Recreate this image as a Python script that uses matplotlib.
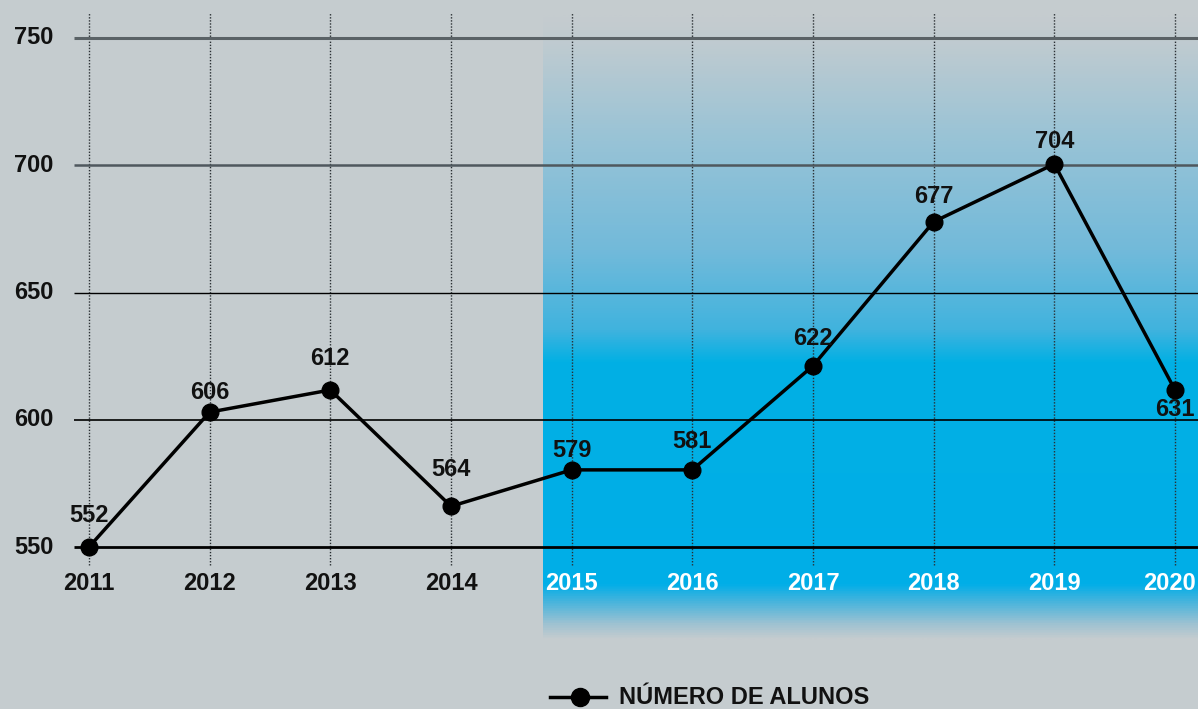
import numpy as np
import matplotlib
matplotlib.use("Agg")
import matplotlib.pyplot as plt
from matplotlib.colors import LinearSegmentedColormap

# ---- data ----
anos = ["2011", "2012", "2013", "2014", "2015", "2016", "2017", "2018", "2019", "2020"]
rotulos = [552, 606, 612, 564, 579, 581, 622, 677, 704, 631]          # printed labels
posicao = [550, 603, 611.7, 566, 580.3, 580.3, 621.2, 677.8, 700.5, 611.7]  # plotted heights
grade_y = [550, 600, 650, 700, 750]
legenda = "NÚMERO DE ALUNOS"

BG = "#c5cccf"
FONT = ["Liberation Sans", "DejaVu Sans"]
plt.rcParams["font.family"] = FONT
FS = 17

W, H = 1198, 709
fig = plt.figure(figsize=(W / 100, H / 100), dpi=100, facecolor=BG)
ax = fig.add_axes([0, 0, 1, 1])
ax.set_facecolor(BG)
for s in ax.spines.values():
    s.set_visible(False)
ax.set_xticks([])
ax.set_yticks([])

# pixel mapping helpers (layout)
x0px, dxpx = 89.0, (1175 - 89) / 9.0
y550px, pxunit = 547.0, (547 - 38) / 200.0
def px2x(p):
    return (p - x0px) / dxpx
def px2y(p):
    return 550 + (y550px - p) / pxunit

ax.set_xlim(px2x(0), px2x(W))
ax.set_ylim(px2y(H), px2y(0))

# ---- gradient panel ----
stops = [(15, "#c5cccf"), (40, "#c0cbd0"), (140, "#98c3d6"), (250, "#72bada"),
         (330, "#40b3de"), (362, "#02b0e4"), (585, "#00aee8"), (600, "#3cb3de"),
         (625, "#9ec2d2"), (640, "#c5cccf")]
top, bot = stops[0][0], stops[-1][0]
cmap = LinearSegmentedColormap.from_list(
    "g", [((p - top) / (bot - top), c) for p, c in stops])
grad = np.linspace(0, 1, 512).reshape(-1, 1)
ax.imshow(grad, cmap=cmap, aspect="auto",
          extent=[3.76, px2x(W), px2y(bot), px2y(top)],
          origin="upper", zorder=0, interpolation="bilinear")

# ---- grid lines ----
gstyle = {550: ("#000000", 2.0), 600: ("#000000", 1.2), 650: ("#000000", 1.0),
          700: ("#4f585e", 1.8), 750: ("#5a6266", 2.2)}
for g in grade_y:
    c, lw = gstyle[g]
    ax.plot([px2x(74), px2x(W)], [g, g], color=c, lw=lw, zorder=2,
            solid_capstyle="butt")
    ax.text(px2x(14), g, str(g), ha="left", va="center",
            fontsize=FS, fontweight="bold", color="#111111", zorder=5)

xs = np.arange(len(anos))
for i in xs:
    ax.plot([i, i], [px2y(565), px2y(12)], color="#2a2f33", lw=1.0,
            linestyle=(0, (1, 1.2)), zorder=1)
    last = i == len(anos) - 1
    ax.text(px2x(1196) if last else i, px2y(584), anos[i],
            ha="right" if last else "center", va="center", fontsize=FS,
            fontweight="bold", color="white" if i >= 4 else "#111111", zorder=5)

# ---- series ----
ax.plot(xs, posicao, color="black", lw=2.5, marker="o", markersize=12, zorder=4)

offsets = [31, 20, 31, 37, 19, 28, 27, 25, 22, -20]
for i, (v, lab) in enumerate(zip(posicao, rotulos)):
    ax.annotate(str(lab), (i, v), xytext=(0, offsets[i] * 0.72), textcoords="offset points",
                ha="center", va="center", fontsize=FS, fontweight="bold",
                color="#111111", zorder=6)

# ---- legend ----
ax.plot([px2x(550), px2x(606)], [px2y(697), px2y(697)], color="black", lw=2.5, zorder=6)
ax.plot([px2x(580)], [px2y(697)], marker="o", color="black", markersize=13, zorder=6)
ax.text(px2x(619), px2y(697), legenda, ha="left", va="center", fontsize=FS,
        fontweight="bold", color="#111111", zorder=6)

fig.savefig("out.png", dpi=100, facecolor=BG)
